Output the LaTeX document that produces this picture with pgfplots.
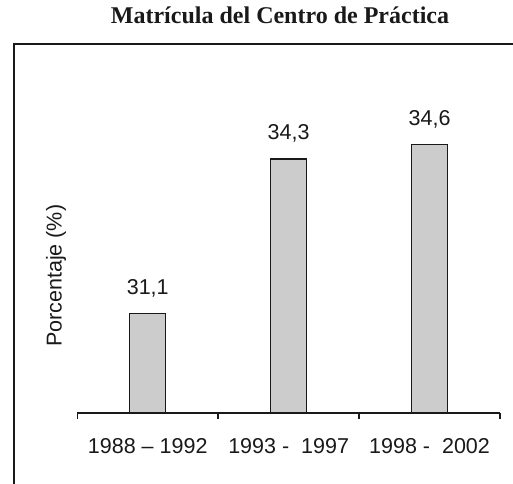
\documentclass[border=0pt]{standalone}
\usepackage{fontspec}
\setmainfont{Liberation Serif}
\newfontfamily\arial{Liberation Sans}
\usepackage{pgfplots}
\pgfplotsset{compat=1.18}
\definecolor{barfill}{RGB}{204,204,204}
\definecolor{ink}{RGB}{25,25,25}
\begin{document}
\begin{tikzpicture}[x=1pt,y=1pt]
\useasboundingbox (0,0) rectangle (513,483);
\draw[ink,line width=2pt] (14.3,-2) -- (14.3,439.3) -- (520,439.3);
\node[anchor=base,font=\bfseries\fontsize{24}{28}\selectfont,text=ink] at (280,459) {Matrícula del Centro de Práctica};
\begin{axis}[
  at={(77.3pt,70pt)}, anchor=south west,
  scale only axis, width=422.7pt, height=338.8pt,
  xmin=-0.5, xmax=2.5, ymin=29.05, ymax=36.05,
  axis x line*=bottom, axis y line*=left,
  y axis line style={draw=none},
  x axis line style={ink,line width=2pt,-},
  ytick=\empty,
  xtick={0,1,2},
  xticklabels={1988 – 1992,{1993 -\ \ 1997},{1998 -\ \ 2002}},
  major x tick style={draw=none},
  minor xtick={-0.5,0.5,1.5,2.5},
  minor x tick style={ink,line width=1.6pt},
  minor tick length=6pt,
  tick align=outside,
  xticklabel style={anchor=base,yshift=-36pt,font=\arial\fontsize{21.5}{24}\selectfont,text=ink},
  ylabel={Porcentaje (\%)},
  every axis y label/.style={at={(axis description cs:-0.0505,0.405)},rotate=90,anchor=center,font=\arial\fontsize{21.5}{24}\selectfont,text=ink},
  ybar, bar width=36pt,
  nodes near coords,
  /pgf/number format/assume math mode=true,
  /pgf/number format/use comma,
  /pgf/number format/fixed,
  /pgf/number format/fixed zerofill,
  /pgf/number format/precision=1,
  every node near coord/.append style={anchor=base,yshift=19pt,font=\arial\fontsize{21.5}{24}\selectfont,text=ink},
  clip=false,
]
\addplot[draw=ink,line width=1.4pt,fill=barfill] coordinates {(0,31.1) (1,34.3) (2,34.6)};
\end{axis}
\end{tikzpicture}
\end{document}
